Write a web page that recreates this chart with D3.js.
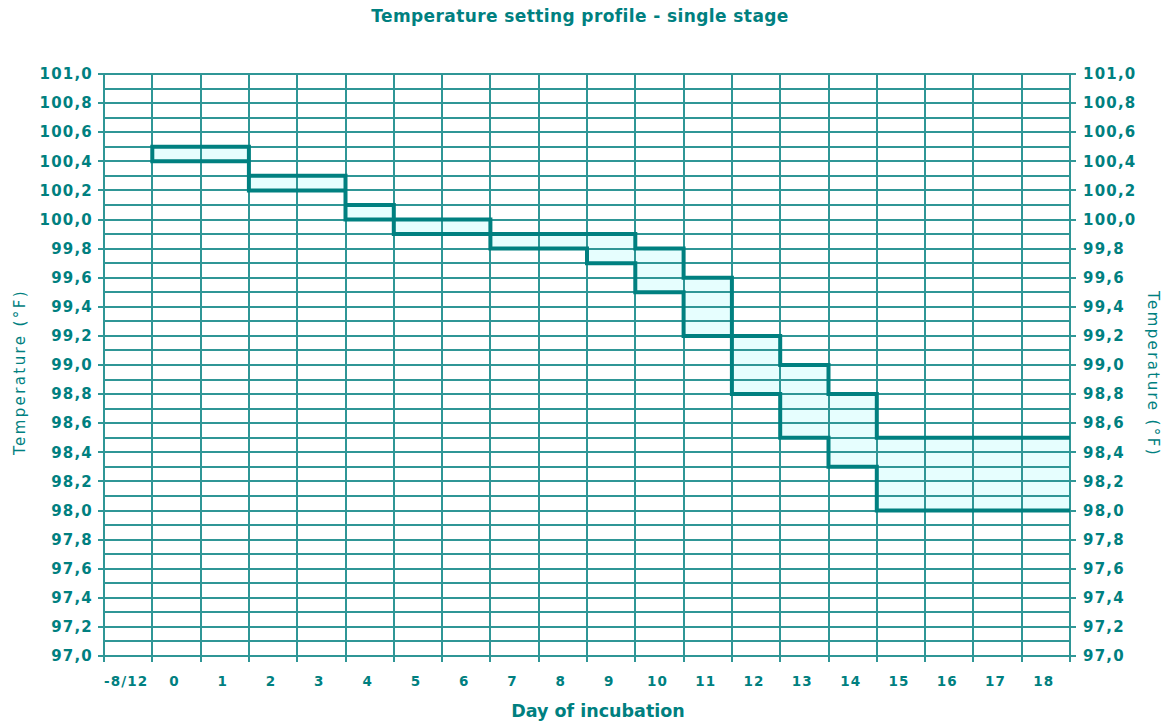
<!DOCTYPE html>
<html><head><meta charset="utf-8">
<script src="https://cdn.jsdelivr.net/npm/d3@7/dist/d3.min.js"></script>
<style>
html,body{margin:0;padding:0;background:#fff;}
text{font-family:"DejaVu Sans",Verdana,sans-serif;fill:#008080;}
</style></head>
<body><svg id="chart" width="1168" height="721"></svg>
<script>
const categories = ["-8/12","0","1","2","3","4","5","6","7","8","9","10","11","12","13","14","15","16","17","18"];
const upperTemp = [null,100.5,100.5,100.3,100.3,100.1,100.0,100.0,99.9,99.9,99.9,99.8,99.6,99.2,99.0,98.8,98.5,98.5,98.5,98.5];
const lowerTemp = [null,100.4,100.4,100.2,100.2,100.0,99.9,99.9,99.8,99.8,99.7,99.5,99.2,98.8,98.5,98.3,98.0,98.0,98.0,98.0];
const yTickLabels = [97.0,97.2,97.4,97.6,97.8,98.0,98.2,98.4,98.6,98.8,99.0,99.2,99.4,99.6,99.8,100.0,100.2,100.4,100.6,100.8,101.0];
const yGridValues = d3.range(0,41).map(i => +(97 + i*0.1).toFixed(1));
const titleText = "Temperature setting profile - single stage";
const xTitle = "Day of incubation";
const yTitle = "Temperature (°F)";

const teal = "#008080", grid = "#2f9696", fillCol = "#e6fefe";
const L = 104, R = 1070, T = 74, B = 656;
const svg = d3.select("#chart");
const x = d3.scaleBand().domain(categories).range([L, R]).padding(0);
const y = d3.scaleLinear().domain([97, 101]).range([B, T]);
const fmt = v => d3.format(".1f")(v).replace(".", ",");

const pts = (arr) => {
  const out = [];
  categories.forEach((c, i) => {
    if (arr[i] == null) return;
    out.push([x(c), arr[i], i]);
    out.push([x(c) + x.bandwidth(), arr[i], i]);
  });
  return out;
};
const up = pts(upperTemp), lo = pts(lowerTemp);

// fill
const area = d3.area().x(d => d[0]).y0(d => y(lowerTemp[d[2]])).y1(d => y(d[1]));
svg.append("path").datum(up).attr("d", area).attr("fill", fillCol);

// grid
const g = svg.append("g").attr("stroke", grid).attr("stroke-width", 1.6).attr("shape-rendering","crispEdges");
g.selectAll("line.h").data(yGridValues).join("line")
  .attr("x1", L).attr("x2", R).attr("y1", d => Math.round(y(d))).attr("y2", d => Math.round(y(d)));
const xb = categories.map(c => x(c)).concat([R]);
g.selectAll("line.v").data(xb).join("line")
  .attr("x1", d => Math.round(d)).attr("x2", d => Math.round(d)).attr("y1", T).attr("y2", B + 6);
g.selectAll("line.tl").data(yTickLabels).join("line")
  .attr("x1", L - 6).attr("x2", L).attr("y1", d => Math.round(y(d))).attr("y2", d => Math.round(y(d)));
g.selectAll("line.tr").data(yTickLabels).join("line")
  .attr("x1", R).attr("x2", R + 6).attr("y1", d => Math.round(y(d))).attr("y2", d => Math.round(y(d)));

// profile line
const path = lo.slice().reverse().concat(up);
svg.append("path").datum(path)
  .attr("d", d3.line().x(d => d[0]).y(d => y(d[1])))
  .attr("fill", "none").attr("stroke", teal).attr("stroke-width", 4).attr("stroke-linejoin","miter");

// tick labels
svg.append("g").selectAll("text").data(yTickLabels).join("text")
  .attr("x", 93).attr("y", d => y(d)).attr("dy", "0.35em").attr("text-anchor", "end")
  .attr("font-size", 15).attr("letter-spacing", 1.2).attr("font-weight", "bold").text(fmt);
svg.append("g").selectAll("text").data(yTickLabels).join("text")
  .attr("x", 1083).attr("y", d => y(d)).attr("dy", "0.35em").attr("text-anchor", "start")
  .attr("font-size", 15).attr("letter-spacing", 1.2).attr("font-weight", "bold").text(fmt);
svg.append("g").selectAll("text").data(categories).join("text")
  .attr("x", d => x(d) + x.bandwidth() / 2 - 2).attr("y", 681).attr("dy", "0.35em").attr("text-anchor", "middle")
  .attr("font-size", 13.5).attr("letter-spacing", 1.1).attr("font-weight", "bold").text(d => d);

// titles
svg.append("text").attr("x", 580).attr("y", 16).attr("dy","0.35em").attr("text-anchor","middle")
  .attr("font-size", 17).attr("letter-spacing", 0.4).attr("font-weight","bold").text(titleText);
svg.append("text").attr("x", 598).attr("y", 711).attr("dy","0.35em").attr("text-anchor","middle")
  .attr("font-size", 17.5).attr("font-weight","bold").text(xTitle);
svg.append("text").attr("transform","translate(20,372) rotate(-90)").attr("dy","0.35em").attr("text-anchor","middle")
  .attr("font-size", 15).attr("letter-spacing", 2.4).text(yTitle);
svg.append("text").attr("transform","translate(1153,374) rotate(90)").attr("dy","0.35em").attr("text-anchor","middle")
  .attr("font-size", 15).attr("letter-spacing", 2.4).text(yTitle);
</script></body></html>
